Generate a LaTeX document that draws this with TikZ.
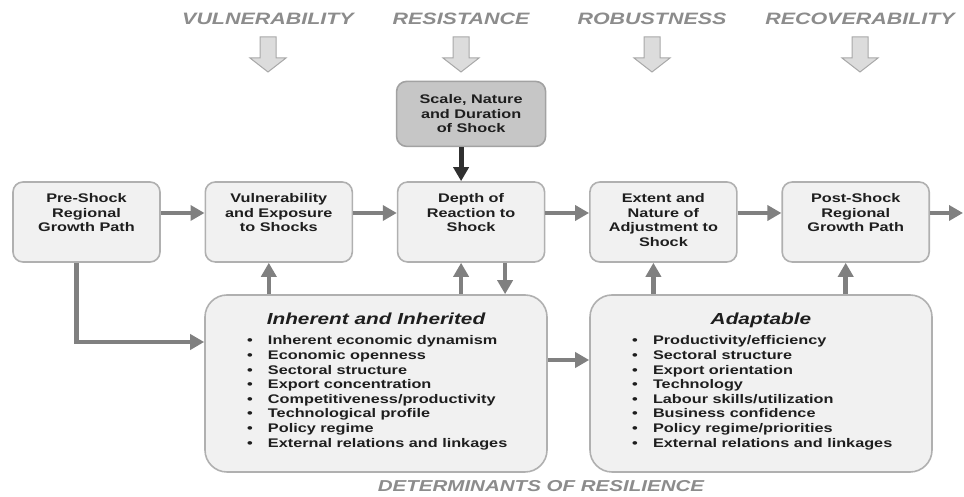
\documentclass[tikz,border=0pt]{standalone}
\usepackage{fontspec}
\setmainfont{Liberation Sans}[FakeStretch=1.3]
\usetikzlibrary{arrows.meta, positioning}

\definecolor{ink}{HTML}{1E1E1E}
\definecolor{boxfill}{HTML}{F1F1F1}
\definecolor{boxline}{HTML}{B0B0B0}
\definecolor{shockfill}{HTML}{C6C6C6}
\definecolor{shockline}{HTML}{A2A2A2}
\definecolor{shockdark}{HTML}{303030}
\definecolor{linkgray}{HTML}{808080}
\definecolor{headgray}{HTML}{8C8C8C}
\definecolor{hollowfill}{HTML}{DCDCDC}
\definecolor{hollowline}{HTML}{A8A8A8}

\begin{document}
\begin{tikzpicture}[x=1pt, y=1pt]
\useasboundingbox (0,0) rectangle (964,497);

% GLOBAL SETTINGS
\newcommand{\boxtext}[1]{\parbox[c][80pt][t]{145pt}{\centering\vspace*{10.5pt}\strut#1}}
\newcommand{\factor}[1]{\makebox[21pt][l]{\textbullet}#1\par}
\newcommand{\factorbox}[2]{\parbox[c][177pt][t]{342pt}{%
\vspace*{16.7pt}{\centering\fontsize{16}{19}\selectfont\itshape\rule{0pt}{13.3pt}#1\par}%
\vspace{5.4pt}{\leftskip=42pt\rightskip=0pt plus 1fil #2}}}

% SHARED CODE
\newlength{\xdist}
\setlength{\xdist}{192.3pt}
\tikzset{
box/.style={draw=boxline, fill=boxfill, line width=1.6pt, rounded corners=10pt,
  minimum width=147pt, minimum height=80pt, inner sep=0pt, text=ink,
  font=\fontsize{12.5}{14.5}\selectfont\bfseries},
shockbox/.style={box, draw=shockline, fill=shockfill, minimum width=149pt,
  minimum height=65pt, align=center},
bigbox/.style={box, rounded corners=22pt, minimum width=342pt, minimum height=177pt,
  font=\fontsize{12.5}{14.6}\selectfont\bfseries},
link/.style={draw=linkgray, line width=4.5pt, -{Triangle[length=14pt, width=15pt]}},
shocklink/.style={link, draw=shockdark, line width=5pt},
hollow/.style={draw=hollowline, fill=hollowfill, line width=1pt},
stage/.style={font=\fontsize{16.5}{19}\selectfont\bfseries\itshape, text=headgray, anchor=base}
}

% stages and their arrows
\foreach \x/\word [count=\i] in {268/VULNERABILITY, 461/RESISTANCE, 652/ROBUSTNESS, 860/RECOVERABILITY} {
\node[stage] (S\i) at (\x,472) {\word};
\draw[hollow] (\x-8,460) -- (\x+8,460) -- (\x+8,439) -- (\x+18,439) -- (\x,425)
  -- (\x-18,439) -- (\x-8,439) -- cycle;
}

% top row
\path (86.5,275) ++(-\xdist,0) foreach \name/\txt in {Pre/{Pre-Shock\\Regional\\Growth Path},
  Vul/{Vulnerability\\and Exposure\\to Shocks}, Dep/{Depth of\\Reaction to\\Shock},
  Ext/{Extent and\\Nature of\\Adjustment to\\Shock}, Post/{Post-Shock\\Regional\\Growth Path}} {
++(\xdist,0) node[box] (\name) {\boxtext{\txt}}
};
\node[shockbox, above=34pt of Dep] (Shock) {Scale, Nature\\and Duration\\of Shock};

% determinants
\node[bigbox] (Inh) at (376,113.5) {\factorbox{Inherent and Inherited}{%
\factor{Inherent economic dynamism}
\factor{Economic openness}
\factor{Sectoral structure}
\factor{Export concentration}
\factor{Competitiveness/productivity}
\factor{Technological profile}
\factor{Policy regime}
\factor{External relations and linkages}}};
\node[bigbox] (Ada) at (761,113.5) {\factorbox{Adaptable}{%
\factor{Productivity/efficiency}
\factor{Sectoral structure}
\factor{Export orientation}
\factor{Technology}
\factor{Labour skills/utilization}
\factor{Business confidence}
\factor{Policy regime/priorities}
\factor{External relations and linkages}}};
\node[stage, font=\fontsize{15.8}{19}\selectfont\bfseries\itshape] (Det) at (541,5) {DETERMINANTS OF RESILIENCE};

% EDGES
\foreach \a/\b in {Pre/Vul, Vul/Dep, Dep/Ext, Ext/Post}
  \draw[link] ([yshift=9pt]\a.east) -- ([yshift=9pt]\b.west);
\coordinate (out) at (963,284);
\draw[link] ([yshift=9pt]Post.east) -- (out);
\draw[shocklink] ([xshift=-10pt]Shock.south) -- ([xshift=-10pt]Shock.south |- Dep.north);
\foreach \n in {Vul, Dep}
  \draw[link] ([xshift=-10pt]\n.south |- Inh.north) -- ([xshift=-10pt]\n.south);
\foreach \n in {Ext, Post}
  \draw[link] ([xshift=-10pt]\n.south |- Ada.north) -- ([xshift=-10pt]\n.south);
\draw[link] ([xshift=34pt]Dep.south) -- ([xshift=34pt]Dep.south |- Inh.north);
\draw[link] ([xshift=-10pt]Pre.south) |- ([yshift=41.5pt]Inh.west);
\draw[link] ([yshift=23.5pt]Inh.east) -- ([yshift=23.5pt]Ada.west);

\end{tikzpicture}
\end{document}
